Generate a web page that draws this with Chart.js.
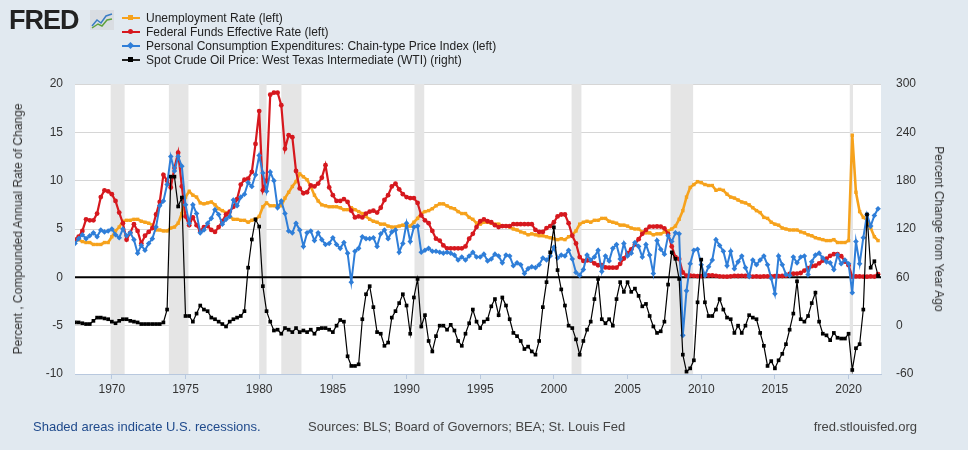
<!DOCTYPE html>
<html><head><meta charset="utf-8">
<script src="https://cdn.jsdelivr.net/npm/chart.js@4"></script>
<style>
body{margin:0;background:#e1e9f0;font-family:"Liberation Sans",Arial,sans-serif;}
#wrap{position:relative;width:968px;height:450px;}
canvas{position:absolute;left:0;top:0;}
.t{position:absolute;white-space:nowrap;}
.lg{position:absolute;left:122px;font-size:12px;color:#222;}
.lg span{display:inline-block;width:18px;height:2px;vertical-align:middle;margin-right:6px;position:relative;top:-1px}
.lg span i{position:absolute;left:6px;top:-2px;width:5px;height:5px;}
</style></head><body>
<div id="wrap">
<canvas id="c" width="968" height="450"></canvas>
<div class="t" style="left:9px;top:5px;font:bold 27px 'Liberation Sans',Arial;color:#222;letter-spacing:-1px">FRED</div>
<svg class="t" style="left:90px;top:10px" width="24" height="20"><rect width="24" height="20" fill="#d9dde2"/><polyline points="2,16 7,10 11,13 16,6 22,4" fill="none" stroke="#3b7dc4" stroke-width="1.5"/><polyline points="2,18 8,14 12,16 17,10 22,9" fill="none" stroke="#5fa13c" stroke-width="1.5"/></svg>
<div class="lg" style="top:11px"><span style="background:#f6a21c"><i style="background:#f6a21c"></i></span>Unemployment Rate (left)</div>
<div class="lg" style="top:25px"><span style="background:#d6181e"><i style="background:#d6181e;border-radius:3px"></i></span>Federal Funds Effective Rate (left)</div>
<div class="lg" style="top:39px"><span style="background:#2f7ed8"><i style="background:#2f7ed8;transform:rotate(45deg)"></i></span>Personal Consumption Expenditures: Chain-type Price Index (left)</div>
<div class="lg" style="top:53px"><span style="background:#222"><i style="background:#000"></i></span>Spot Crude Oil Price: West Texas Intermediate (WTI) (right)</div>
<div class="t" style="left:12px;top:229px;transform:translate(-50%,-50%) rotate(-90deg);font-size:12px;color:#333;margin-left:6px">Percent , Compounded Annual Rate of Change</div>
<div class="t" style="left:939px;top:229px;transform:translate(-50%,-50%) rotate(90deg);font-size:12px;color:#333">Percent Change from Year Ago</div>
<div class="t" style="left:33px;top:419px;font-size:13px;color:#1f4a8c">Shaded areas indicate U.S. recessions.</div>
<div class="t" style="left:308px;top:419px;font-size:13px;color:#444">Sources: BLS; Board of Governors; BEA; St. Louis Fed</div>
<div class="t" style="right:51px;top:419px;font-size:13px;color:#444">fred.stlouisfed.org</div>
</div>
<script>
const START = 1967.5, STEP = 0.25;
const unrate = [3.8,3.9, 3.7,3.6,3.6,3.4, 3.4,3.4,3.6,3.6, 4.2,4.8,5.2,5.8, 5.9,5.9,6.0,6.0, 5.8,5.7,5.6,5.4, 4.9,4.9,4.8,4.8, 5.1,5.2,5.6,6.6, 8.3,8.9,8.5,8.3, 7.7,7.6,7.7,7.8, 7.5,7.1,6.9,6.7, 6.3,6.0,6.0,5.9, 5.9,5.7,5.9,6.0, 6.3,7.3,7.7,7.4, 7.4,7.4,7.4,8.2, 8.8,9.4,9.9,10.7, 10.4,10.1,9.4,8.5, 7.9,7.5,7.4,7.3, 7.3,7.3,7.2,7.0, 7.0,7.2,7.0,6.8, 6.6,6.3,6.0,5.8, 5.7,5.5,5.5,5.3, 5.2,5.2,5.3,5.4, 5.3,5.3,5.7,6.1, 6.6,6.8,6.9,7.1, 7.4,7.6,7.6,7.4, 7.2,7.1,6.8,6.6, 6.6,6.2,6.0,5.6, 5.5,5.7,5.7,5.6, 5.5,5.5,5.3,5.3, 5.2,5.0,4.9,4.7, 4.6,4.4,4.5,4.4, 4.3,4.3,4.2,4.1, 4.0,3.9,4.0,3.9, 4.2,4.4,4.8,5.5, 5.7,5.8,5.7,5.9, 5.9,6.1,6.1,5.8, 5.7,5.6,5.4,5.4, 5.3,5.1,5.0,5.0, 4.7,4.6,4.6,4.4, 4.5,4.5,4.7,4.8, 5.0,5.3,6.0,6.9, 8.3,9.3,9.6,9.9, 9.8,9.6,9.5,9.5, 9.0,9.1,9.0,8.6, 8.3,8.2,8.0,7.8, 7.7,7.5,7.2,6.9, 6.7,6.2,6.1,5.7, 5.5,5.4,5.1,5.0, 4.9,4.9,4.9,4.7, 4.6,4.4,4.3,4.1, 4.0,3.9,3.8,3.8, 3.9,3.6,3.6,3.6, 3.8,14.7,8.8,6.8, 6.2,5.9,5.1,4.2, 3.8];
const fedfunds = [3.9,4.2, 4.8,6.0,5.9,5.9, 6.6,8.3,9.0,8.9, 8.6,7.9,6.7,5.6, 3.9,4.6,5.5,4.8, 3.5,4.3,4.7,5.1, 6.5,7.8,10.6,10.0, 9.3,11.3,12.9,9.4, 6.3,5.4,6.2,5.4, 4.8,5.2,5.3,4.9, 4.7,5.2,5.8,6.5, 6.8,7.3,8.1,9.6, 10.1,10.2,10.9,13.8, 17.2,9.0,10.0,18.9, 19.1,19.1,17.8,13.3, 14.7,14.5,11.0,9.2, 8.7,8.8,9.5,9.4, 9.7,10.3,11.6,9.3, 8.5,7.9,7.9,8.1, 7.8,6.9,6.2,6.3, 6.2,6.6,6.8,6.9, 6.7,7.2,8.0,8.5, 9.4,9.7,9.1,8.6, 8.3,8.2,8.2,7.7, 6.4,5.9,5.6,4.8, 4.0,3.8,3.3,3.0, 3.0,3.0,3.0,3.0, 3.2,4.0,4.5,5.2, 5.8,6.0,5.8,5.7, 5.4,5.2,5.3,5.3, 5.3,5.5,5.5,5.5, 5.5,5.5,5.5,4.9, 4.7,4.7,5.1,5.3, 5.7,6.3,6.5,6.5, 5.6,4.3,3.5,2.1, 1.7,1.75,1.74,1.44, 1.25,1.25,1.02,1.0, 1.0,1.0,1.4,1.95, 2.5,2.9,3.4,3.95, 4.5,4.9,5.25,5.25, 5.26,5.25,5.07,4.5, 3.2,2.1,1.9,0.5, 0.18,0.18,0.16,0.12, 0.13,0.19,0.19,0.19, 0.16,0.09,0.08,0.07, 0.1,0.15,0.14,0.16, 0.14,0.12,0.08,0.09, 0.07,0.09,0.09,0.1, 0.11,0.13,0.14,0.16, 0.36,0.37,0.39,0.45, 0.7,0.95,1.15,1.2, 1.45,1.74,1.92,2.22, 2.4,2.4,2.19,1.64, 1.26,0.06,0.09,0.09, 0.08,0.07,0.09,0.08, 0.33];
const pce = [3.5,4.0, 4.4,4.0,4.3,4.6, 4.2,4.9,4.7,4.8, 5.0,4.4,4.1,5.0, 4.3,4.6,3.9,2.5, 3.3,2.8,3.5,4.0, 5.2,7.4,7.9,9.6, 12.5,11.0,12.5,11.5, 7.5,5.6,7.5,6.6, 4.6,4.9,5.6,6.1, 7.0,6.5,5.5,6.0, 6.3,8.0,7.4,8.3, 8.6,9.8,9.4,10.6, 12.6,10.8,8.9,10.9, 10.0,7.2,7.9,6.6, 4.8,4.6,5.6,4.9, 3.2,4.6,4.8,3.8, 4.6,3.9,3.4,3.5, 4.1,3.4,3.0,3.6, 2.5,-0.5,2.7,3.0, 4.2,4.0,4.0,4.1, 3.2,4.5,4.9,4.0, 4.7,4.9,2.6,3.5, 5.6,3.7,5.2,5.3, 2.6,2.8,3.0,2.7, 2.7,2.6,2.5,2.6, 2.5,2.3,1.8,2.1, 1.8,2.2,2.6,2.1, 2.1,2.4,1.7,1.9, 2.4,2.2,1.5,2.3, 2.2,1.2,1.5,1.3, 0.4,0.9,1.1,1.0, 1.3,2.0,1.8,2.2, 3.1,2.0,2.3,2.2, 2.8,1.9,0.5,0.2, 0.8,2.3,1.8,2.1, 2.8,0.6,2.2,1.7, 3.0,3.4,1.9,3.5, 2.2,2.5,3.6,3.2, 2.1,3.4,2.3,0.4, 3.8,2.9,2.4,4.3, 3.7,4.6,4.5,-6.0, -1.4,1.4,2.8,2.9, 1.3,0.2,1.1,1.8, 3.9,3.3,2.7,1.2, 2.7,0.9,1.6,2.2, 1.0,0.1,1.8,1.3, 1.8,2.2,1.3,-0.1, -1.7,2.2,1.3,0.3, 0.2,2.1,1.5,2.1, 2.2,0.3,1.6,2.3, 2.5,2.0,1.6,1.5, 0.8,2.3,1.4,1.8, 1.4,-1.6,3.7,1.4, 4.1,6.5,5.3,6.4, 7.1];
const wti = [4,4, 3,2,2,6, 10,10,9,8, 5,3,6,8, 8,6,5,4, 2,2,2,2, 2,2,4,20, 185,185,148,159, 12,12,5,15, 25,20,18,10, 8,5,2,-1, 5,8,10,12, 18,72,107,132, 123,49,18,5, -6,-5,-10,-3, -5,-8,-3,-8, -6,-8,-5,-10, -4,-3,-3,-5, -8,0,7,5, -38,-50,-50,-48, 8,39,49,23, -8,-10,-25,-21, 10,18,28,39, 25,-10,35,58, -1,13,-19,-32, -13,0,0,-5, 1,-6,-19,-25, -10,3,20,5, -3,5,8,24, 33,13,35,25, 8,-9,-13,-19, -29,-26,-32,-36, -19,23,54,91, 122,69,45,25, 0,-3,-17,-36, -19,-5,5,33, 58,8,3,8, 0,33,54,42, 54,42,46,37, 24,27,12,-1, -9,-7,5,51, 91,83,58,-36, -57,-53,-43,29, 82,29,12,12, 20,33,20,10, 8,-9,0,-9, 0,13,10,8, -9,-25,-50,-44, -53,-43,-35,-23, -5,15,55,8, 5,12,28,41, 5,-10,-12,-18, -9,-15,-16,-16, -10,-55,-28,-23, 20,138,72,80, 62];
const recessions = [[1969.92,1970.87],[1973.87,1975.2],[1980.0,1980.5],[1981.5,1982.87],[1990.54,1991.2],[2001.2,2001.87],[2007.92,2009.45],[2020.08,2020.3]];
const xTicks = [1970,1975,1980,1985,1990,1995,2000,2005,2010,2015,2020];

const pts = a => a.map((v,i)=>({x:START+i*STEP,y:v}));
const recPlugin = {id:'rec', beforeDatasetsDraw(ch){
  const {ctx,chartArea:a,scales:{x,y}}=ch; ctx.save(); ctx.fillStyle='#e5e5e5';
  recessions.forEach(([s,e])=>{const x1=x.getPixelForValue(s),x2=x.getPixelForValue(e);ctx.fillRect(x1,a.top,Math.max(2,x2-x1),a.bottom-a.top);});
  const py=y.getPixelForValue(0);
  ctx.strokeStyle='#000'; ctx.lineWidth=2; ctx.beginPath(); ctx.moveTo(a.left,py); ctx.lineTo(a.right,py); ctx.stroke();
  ctx.restore();}};
const bgPlugin = {id:'bg', beforeDraw(ch){const {ctx,chartArea:a}=ch; ctx.save(); ctx.fillStyle='#fff'; ctx.fillRect(a.left,a.top,a.right-a.left,a.bottom-a.top); ctx.restore();}};
const ds = (label,data,color,style,axis,w,r)=>({label,data:pts(data),borderColor:color,backgroundColor:color,pointStyle:style,pointRadius:r,pointBorderWidth:0,borderWidth:w,yAxisID:axis,tension:0});
Chart.defaults.font.family = "'Liberation Sans', Arial, sans-serif";
Chart.defaults.font.size = 12;
new Chart(document.getElementById('c'),{
  type:'line',
  data:{datasets:[
    ds('Spot Crude Oil Price: West Texas Intermediate (WTI) (right)',wti,'#000','rect','y2',1.2,2.6),
    ds('Personal Consumption Expenditures: Chain-type Price Index (left)',pce,'#2f7ed8','rectRot','y',2,2.8),
    ds('Federal Funds Effective Rate (left)',fedfunds,'#d6181e','circle','y',2.2,2.4),
    ds('Unemployment Rate (left)',unrate,'#f6a21c','rect','y',2.6,2.4),
  ]},
  options:{responsive:false,animation:false,
    layout:{padding:{top:84,bottom:50,left:0,right:0}},
    plugins:{legend:{display:false},tooltip:{enabled:false}},
    scales:{
      x:{type:'linear',min:1967.5,max:2022.2,
        afterBuildTicks:s=>{s.ticks=xTicks.map(v=>({value:v}));},
        afterFit:s=>{s.height=26;},
        ticks:{color:'#333',callback:v=>String(v),padding:3,maxRotation:0},
        grid:{drawOnChartArea:false,tickLength:5,color:'#b8c8de'},
        border:{color:'#b8c8de'}},
      y:{position:'left',min:-10,max:20,afterFit:s=>{s.width=75;},
        ticks:{stepSize:5,color:'#333',padding:12},
        grid:{color:'#d6d6d6',drawTicks:false},border:{display:false}},
      y2:{position:'right',min:-60,max:300,afterFit:s=>{s.width=87;},
        ticks:{stepSize:60,color:'#333',padding:15},
        grid:{drawOnChartArea:false,drawTicks:false},border:{display:false}}
    }},
  plugins:[bgPlugin,recPlugin]
});
</script>
</body></html>
